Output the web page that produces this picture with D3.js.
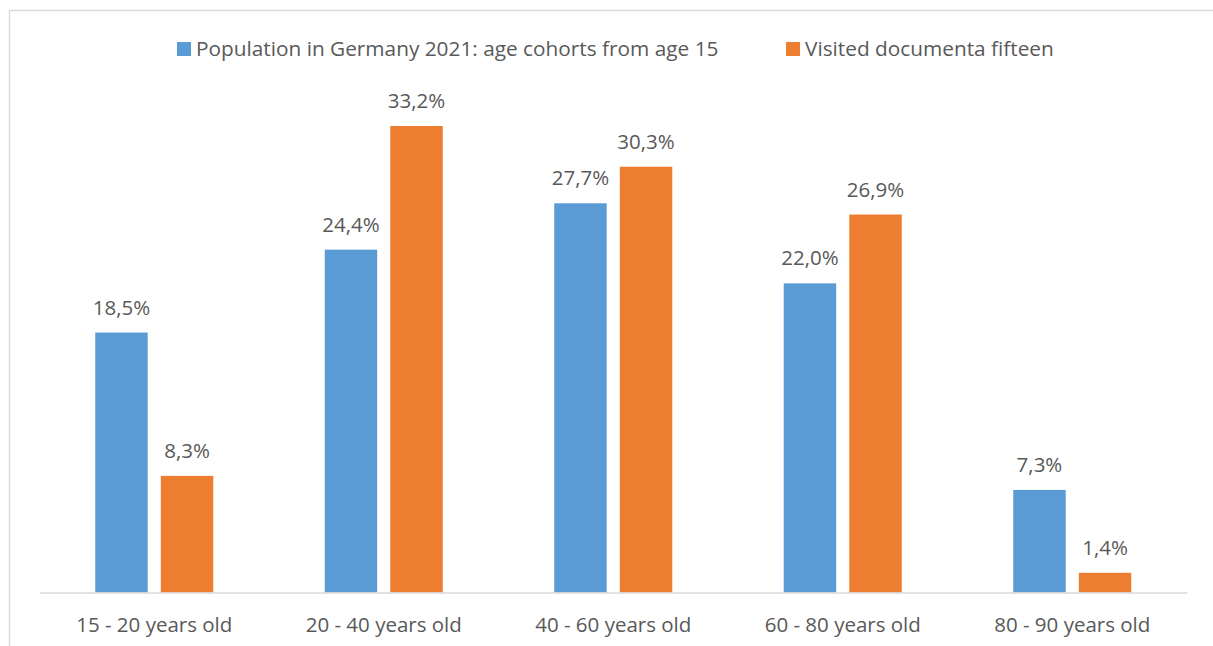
<!DOCTYPE html>
<html><head><meta charset="utf-8">
<script src="https://cdn.jsdelivr.net/npm/d3@7"></script>
<style>
body{margin:0;background:#fff;}
svg{display:block;font-family:"Open Sans",sans-serif;}
</style></head>
<body><svg id="c" width="1213" height="646"></svg>
<script>
const categories = ["15 - 20 years old","20 - 40 years old","40 - 60 years old","60 - 80 years old","80 - 90 years old"];
const seriesNames = ["Population in Germany 2021: age cohorts from age 15","Visited documenta fifteen"];
const population = [18.5, 24.4, 27.7, 22.0, 7.3];
const visited = [8.3, 33.2, 30.3, 26.9, 1.4];
const colors = ["#5B9BD5","#ED7D31"];

const svg = d3.select("#c");
const textColor = "#595959";
const fontFam = "'Open Sans',sans-serif";

// chart border
svg.append("rect").attr("x",9.5).attr("y",10.5).attr("width",1220).attr("height",660)
  .attr("fill","none").attr("stroke","#D9D9D9").attr("stroke-width",1.5);

const x0 = d3.scaleBand().domain(categories).range([39.5,1187]).padding(0);
const x1 = d3.scaleBand().domain([0,1]).range([0,x0.bandwidth()]).paddingInner(0.2).paddingOuter(0.85);
const y = d3.scaleLinear().domain([0,35]).range([592.5,100.7]);

const data = categories.map((c,i)=>({cat:c, vals:[population[i], visited[i]]}));

const g = svg.append("g");
const groups = g.selectAll("g.grp").data(data).join("g").attr("class","grp")
  .attr("transform",d=>`translate(${x0(d.cat)},0)`);

groups.selectAll("rect").data(d=>d.vals.map((v,j)=>({v,j}))).join("rect")
  .attr("x",d=>x1(d.j)).attr("width",x1.bandwidth())
  .attr("y",d=>y(d.v)).attr("height",d=>y(0)-y(d.v))
  .attr("fill",d=>colors[d.j]);

groups.selectAll("text.lbl").data(d=>d.vals.map((v,j)=>({v,j}))).join("text").attr("class","lbl")
  .attr("x",d=>x1(d.j)+x1.bandwidth()/2).attr("y",d=>y(d.v)-18)
  .attr("text-anchor","middle").attr("fill",textColor).attr("font-size",20.5)
  .text(d=>d.v.toFixed(1).replace(".",",")+"%");

// axis
const axis = d3.axisBottom(x0).tickSize(0).tickPadding(25);
const ax = svg.append("g").attr("transform",`translate(0,${y(0)})`).call(axis);
ax.select(".domain").attr("stroke","#D9D9D9").attr("stroke-width",1.5);
ax.selectAll("text").attr("fill",textColor).attr("font-size",20.5).attr("font-family",fontFam);

// legend
const legendItems = [{name:seriesNames[0],x:177,c:colors[0]},{name:seriesNames[1],x:786,c:colors[1]}];
const lg = svg.append("g");
legendItems.forEach(it=>{
  lg.append("rect").attr("x",it.x).attr("y",42).attr("width",14).attr("height",14).attr("fill",it.c);
  lg.append("text").attr("x",it.x+19).attr("y",55.5).attr("fill",textColor).attr("font-size",20.8).text(it.name);
});
</script></body></html>
